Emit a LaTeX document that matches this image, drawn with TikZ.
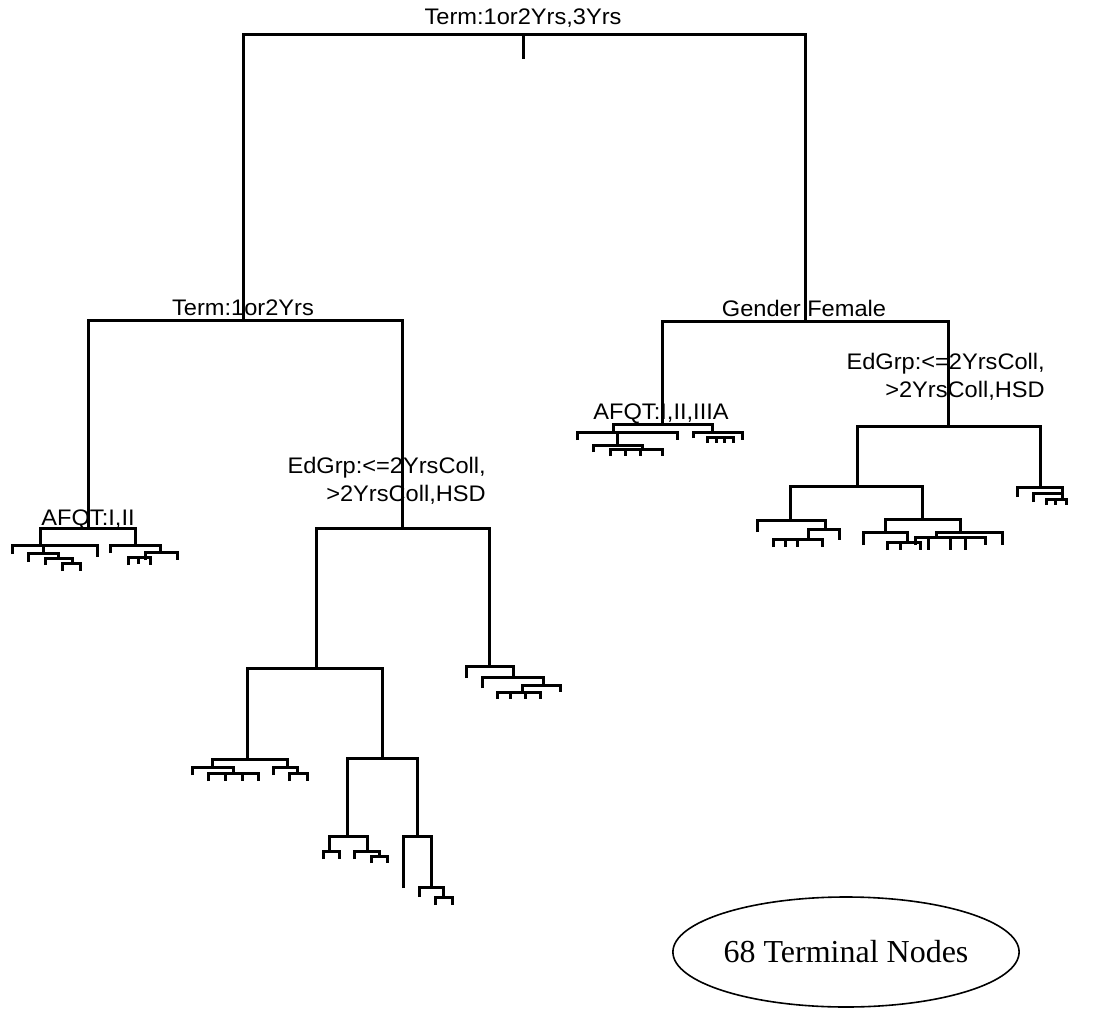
\documentclass[tikz,border=0pt]{standalone}
\usepackage{fontspec}
\setmainfont{Liberation Sans}[FakeStretch=1.05]
\newfontfamily\serifont{Liberation Serif}
\usetikzlibrary{shapes.geometric}
\newcommand\br[5]{\draw[tr] (#1,#4) |- (#2,#3) -- (#2,#5);}
\newcommand\dr[3]{\draw[tr] (#1,#2) -- (#1,#3);}
\begin{document}
\begin{tikzpicture}[x=1pt,y=-1pt,
  tr/.style={line width=3pt},
  lab/.style={anchor=base,inner sep=0pt,font=\fontsize{22.5}{28}\selectfont},
  labr/.style={anchor=base east,inner sep=0pt,font=\fontsize{22.5}{28}\selectfont},
]
\useasboundingbox (0,0) rectangle (1093,1009);
% main nodes
\coordinate (root) at (523,34);
\coordinate (rootstem) at (523,59);
\coordinate (L) at (243,320);
\coordinate (R) at (805,321);
\coordinate (LL) at (88,528);
\coordinate (LR) at (402,528);
\coordinate (LRL) at (316,668);
\coordinate (LRR) at (489,666);
\coordinate (LRLL) at (247,759);
\coordinate (LRLR) at (382,758);
\coordinate (LRLRL) at (347,836);
\coordinate (LRLRR) at (417,836);
\coordinate (RL) at (662,424);
\coordinate (RR) at (948,426);
\coordinate (RRL) at (857,486);
\coordinate (RRR) at (1040,487);
% main connectors
\draw[tr] (root) -- (rootstem);
\foreach \p/\c in {root/L,root/R,L/LL,L/LR,LR/LRL,LR/LRR,LRL/LRLL,LRL/LRLR,
  LRLR/LRLRL,LRLR/LRLRR,R/RL,R/RR,RR/RRL,RR/RRR}
  \draw[tr] (\p) -| (\c);
% labels
\node[lab] (lroot) at (523,24) {Term:1or2Yrs,3Yrs};
\node[lab] (lL) at (243,315) {Term:1or2Yrs};
\node[lab] (lR) at (804,316) {Gender Female};
\node[lab] (lLL) at (88,525) {AFQT:I,II};
\node[lab] (lRL) at (661,419) {AFQT:I,II,IIIA};
\node[labr] (lLRa) at (486,473) {EdGrp:<=2YrsColl,};
\node[labr] (lLRb) at (486,501) {>2YrsColl,HSD};
\node[labr] (lRRa) at (1045,369) {EdGrp:<=2YrsColl,};
\node[labr] (lRRb) at (1045,397) {>2YrsColl,HSD};
% cluster LL
\br{40}{135}{528}{545}{545}
\br{12}{97}{545}{554}{557}
\dr{43}{545}{553}
\br{28}{58}{553}{562}{557}
\br{45}{72}{558}{565}{563}
\br{62}{80}{563}{571}{571}
\br{110}{160}{545}{553}{552}
\br{145}{177}{552}{560}{560}
\br{128}{150}{557}{565}{565}
\dr{138}{557}{564}
% cluster LRLL
\br{212}{287}{759}{767}{767}
\br{192}{233}{767}{775}{773}
\br{208}{258}{773}{781}{781}
\dr{225}{773}{781}
\dr{242}{773}{781}
\br{273}{297}{767}{775}{773}
\br{289}{307}{773}{781}{781}
% cluster LRLRL
\br{329}{367}{836}{851}{851}
\br{323}{339}{851}{859}{859}
\br{354}{379}{851}{859}{856}
\br{371}{387}{856}{863}{863}
% cluster LRLRR
\br{403}{431}{836}{888}{887}
\br{419}{443}{887}{897}{897}
\br{435}{452}{897}{905}{905}
% cluster LRR
\br{466}{513}{666}{678}{677}
\br{482}{543}{677}{688}{685}
\br{522}{560}{685}{692}{692}
\br{497}{540}{692}{699}{699}
\dr{510}{692}{699}
\dr{525}{692}{699}
% cluster RL
\br{613}{712}{424}{432}{432}
\br{577}{677}{432}{440}{440}
\dr{617}{432}{445}
\br{593}{642}{445}{452}{449}
\br{610}{662}{449}{456}{456}
\dr{625}{449}{456}
\dr{640}{449}{456}
\br{693}{742}{432}{438}{440}
\br{707}{733}{437}{443}{443}
\dr{716}{437}{443}
\dr{724}{437}{443}
% cluster RRL
\br{790}{922}{486}{520}{519}
\br{757}{825}{520}{532}{529}
\br{808}{839}{529}{539}{540}
\br{773}{822}{539}{547}{547}
\dr{785}{539}{547}
\dr{797}{539}{547}
\br{885}{960}{519}{532}{532}
\br{863}{907}{532}{545}{542}
\br{887}{920}{542}{550}{550}
\dr{900}{542}{550}
\br{936}{1002}{532}{537}{545}
\br{915}{985}{537}{545}{545}
\dr{928}{537}{550}
\dr{950}{537}{550}
\dr{965}{537}{550}
% cluster RRR
\br{1017}{1062}{487}{497}{493}
\br{1033}{1062}{493}{502}{499}
\br{1046}{1066}{499}{505}{505}
\dr{1055}{499}{505}
% terminal count
\node[draw, ellipse, line width=1.6pt, inner sep=0pt, minimum width=306pt, minimum height=110pt,
  font=\serifont\fontsize{32}{36}\selectfont] (term) at (846,952) {68 Terminal Nodes};
\end{tikzpicture}
\end{document}
